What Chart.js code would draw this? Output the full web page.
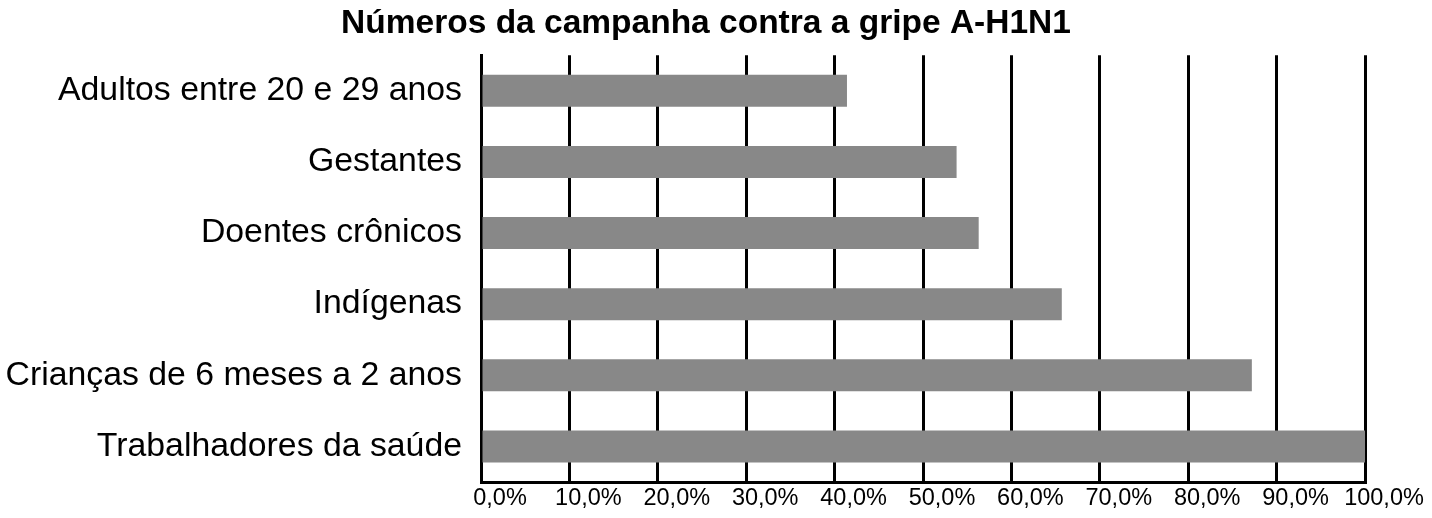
<!DOCTYPE html>
<html>
<head>
<meta charset="utf-8">
<script src="https://cdn.jsdelivr.net/npm/chart.js@4"></script>
<style>
html,body{margin:0;padding:0;background:#fff;}
#wrap{width:1432px;height:518px;}
</style>
</head>
<body>
<div id="wrap"><canvas id="c" width="1432" height="518"></canvas></div>
<script>
const chartTitle = 'Números da campanha contra a gripe A-H1N1';
const categories = [
  'Adultos entre 20 e 29 anos',
  'Gestantes',
  'Doentes crônicos',
  'Indígenas',
  'Crianças de 6 meses a 2 anos',
  'Trabalhadores da saúde'
];
const values = [41.4, 53.8, 56.3, 65.7, 87.2, 100];
const xTickLabels = ['0,0%','10,0%','20,0%','30,0%','40,0%','50,0%','60,0%','70,0%','80,0%','90,0%','100,0%'];

Chart.defaults.font.family = '"Liberation Sans", Arial, sans-serif';
Chart.defaults.color = '#000';

new Chart(document.getElementById('c'), {
  type: 'bar',
  data: {
    labels: categories,
    datasets: [{
      data: values,
      backgroundColor: '#888888',
      borderWidth: 0,
      barPercentage: 0.45,
      categoryPercentage: 1.0
    }]
  },
  options: {
    indexAxis: 'y',
    responsive: false,
    animation: false,
    devicePixelRatio: 1,
    layout: { padding: { left: 0, right: 20, top: 0, bottom: 0 } },
    plugins: {
      legend: { display: false },
      tooltip: { enabled: false },
      title: {
        display: true,
        text: chartTitle,
        color: '#000',
        font: { size: 33.5, weight: 'bold' },
        padding: { top: 4, bottom: 11 }
      }
    },
    scales: {
      x: {
        min: 0,
        max: 100,
        ticks: {
          stepSize: 10,
          font: { size: 23.5 },
          color: '#000',
          padding: 2.5,
          labelOffset: 19,
          maxRotation: 0,
          autoSkip: false,
          callback: (v, i) => xTickLabels[i]
        },
        grid: { display: true, color: '#000', lineWidth: 3, drawTicks: false },
        border: { display: true, color: '#000', width: 3 },
        afterFit: (s) => { s.height = 36; s.paddingRight = 67; s.paddingLeft = 0; }
      },
      y: {
        ticks: { font: { size: 33.8 }, color: '#000', padding: 19 },
        grid: { display: false, drawTicks: false },
        border: { display: true, color: '#000', width: 3 },
        afterFit: (s) => { s.width = 481; s.paddingTop = 0; s.paddingBottom = 0; }
      }
    }
  }
});
</script>
</body>
</html>
